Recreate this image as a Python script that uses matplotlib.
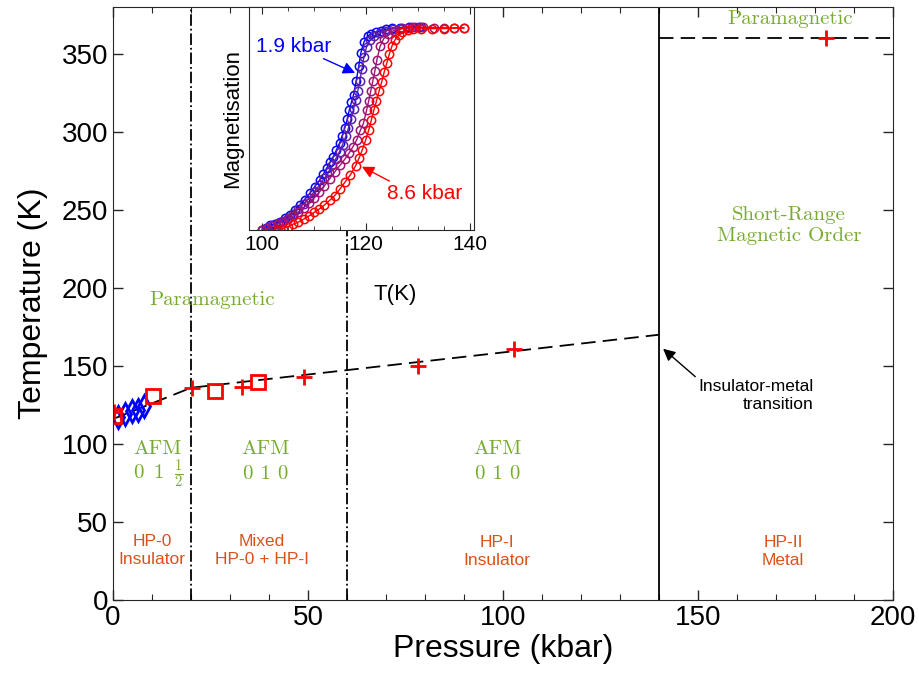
import numpy as np
import matplotlib
matplotlib.use("Agg")
import matplotlib.pyplot as plt
from matplotlib.ticker import MultipleLocator

plt.rcParams['font.family'] = ['Liberation Sans', 'DejaVu Sans']
plt.rcParams['mathtext.fontset'] = 'cm'

# phase diagram points
sq_p = [0.3, 10.2, 26.2, 37.2]
sq_t = [118, 130.5, 134, 139.5]
cr_p = [0.2, 20.2, 33, 49, 78.2, 102.8, 182.8]
cr_t = [120.5, 135.6, 136.5, 143, 149.7, 160.6, 360]
dm_p = [1.2, 3.0, 4.8, 6.5, 8.0]
dm_t = [117.5, 119.5, 121.0, 122.0, 124.5]
tn_p = [0, 20, 140]
tn_t = [116, 136, 170]
sro_p = [140, 200]
sro_t = [360, 360]
bounds_dashdot = [20, 60]
bound_solid = 140

# inset magnetisation curves (T in K, normalised M)
t1 = [100.0, 100.8, 101.6, 102.5, 103.5, 104.5, 105.4, 106.3, 107.3, 108.2, 109.2, 110.1,
      111.1, 111.8, 112.4, 113.1, 113.7, 114.3, 114.9, 115.4, 115.9, 116.4, 116.8, 117.2,
      117.6, 118.1, 118.6, 119.0, 119.6, 120.3, 121.0, 121.9, 122.8, 123.8, 125.0, 126.5,
      128.3, 130.2]
m1 = [0.000, 0.012, 0.025, 0.033, 0.042, 0.058, 0.075, 0.098, 0.124, 0.152, 0.183, 0.215,
      0.249, 0.278, 0.307, 0.336, 0.365, 0.398, 0.432, 0.468, 0.507, 0.552, 0.598, 0.636,
      0.673, 0.740, 0.814, 0.880, 0.934, 0.963, 0.975, 0.983, 0.990, 0.997, 1.002, 1.005,
      1.008, 1.010]
t2 = [100.0, 101.0, 102.0, 103.0, 104.0, 105.0, 106.0, 107.0, 108.0, 109.0, 110.0, 111.0,
      112.0, 112.8, 113.5, 114.2, 114.9, 115.5, 116.1, 116.6, 117.1, 117.6, 118.0, 118.4,
      118.8, 119.2, 119.6, 120.1, 120.8, 121.6, 122.6, 123.8, 125.2, 127.0, 128.8, 130.5]
m2 = [0.000, 0.012, 0.024, 0.035, 0.046, 0.062, 0.082, 0.105, 0.132, 0.160, 0.190, 0.222,
      0.258, 0.290, 0.322, 0.355, 0.390, 0.425, 0.465, 0.505, 0.550, 0.600, 0.645, 0.690,
      0.740, 0.800, 0.860, 0.910, 0.945, 0.965, 0.980, 0.990, 0.998, 1.004, 1.008, 1.010]
t3 = [100.0, 101.0, 102.0, 103.0, 104.0, 105.0, 106.0, 107.0, 108.0, 109.0, 110.0, 111.0,
      112.0, 113.0, 114.0, 115.0, 116.0, 116.8, 117.5, 118.2, 118.9, 119.5, 120.1, 120.5,
      120.9, 121.3, 121.7, 122.1, 122.7, 123.4, 124.3, 125.3, 126.5, 128.0, 129.5, 131.0,
      133.0, 135.0, 137.0, 138.8]
m3 = [0.000, 0.010, 0.020, 0.030, 0.040, 0.055, 0.070, 0.090, 0.112, 0.135, 0.160, 0.188,
      0.220, 0.255, 0.290, 0.322, 0.355, 0.385, 0.415, 0.448, 0.495, 0.530, 0.595, 0.640,
      0.690, 0.740, 0.790, 0.846, 0.912, 0.950, 0.975, 0.990, 0.998, 1.003, 1.006, 1.006,
      1.005, 1.004, 1.004, 1.004]
t4 = [103.0, 104.0, 105.0, 106.0, 107.0, 108.0, 109.0, 110.0, 111.0, 112.0, 113.0, 114.0,
      115.0, 116.0, 117.0, 118.0, 118.7, 119.3, 119.9, 120.5, 121.0, 121.5, 122.0, 122.5,
      123.0, 123.5, 124.0, 124.5, 125.0, 125.6, 126.3, 127.0, 128.0, 129.0, 130.5, 132.7,
      135.0, 137.0, 138.8]
m4 = [0.000, 0.008, 0.018, 0.030, 0.040, 0.055, 0.070, 0.088, 0.105, 0.125, 0.148, 0.172,
      0.205, 0.240, 0.275, 0.320, 0.360, 0.400, 0.445, 0.495, 0.545, 0.595, 0.640, 0.690,
      0.735, 0.785, 0.830, 0.875, 0.915, 0.945, 0.968, 0.982, 0.992, 0.997, 1.000, 1.000,
      1.000, 1.002, 1.003]

green = '#77AC30'
orange = '#D95319'
axc = '#262626'

fig = plt.figure(figsize=(9.19, 6.77), dpi=100)
ax = fig.add_axes([0.123, 0.1137, 0.849, 0.876])

for x in bounds_dashdot:
    ax.axvline(x, color='k', ls='-.', lw=1.3)
ax.axvline(bound_solid, color='k', ls='-', lw=1.3)
ax.plot(tn_p, tn_t, 'k--', lw=1.3, dashes=(8, 4))
ax.plot(sro_p, sro_t, 'k--', lw=1.3, dashes=(8, 4))

ax.plot(dm_p, dm_t, 'd', mfc='none', mec='blue', mew=2, ms=11, ls='none')
ax.plot(sq_p, sq_t, 's', mfc='none', mec='red', mew=2, ms=10, ls='none')
ax.plot(cr_p, cr_t, '+', color='red', mew=2, ms=12, ls='none')

ax.set_xlim(0, 200)
ax.set_ylim(0, 380)
ax.xaxis.set_major_locator(MultipleLocator(50))
ax.xaxis.set_minor_locator(MultipleLocator(10))
ax.yaxis.set_major_locator(MultipleLocator(50))
ax.tick_params(which='both', direction='in', top=True, right=True, colors=axc,
               labelcolor='k', labelsize=20)
ax.tick_params(which='major', length=7, width=1)
ax.tick_params(which='minor', length=4, width=0.8)
for s in ax.spines.values():
    s.set_color(axc)
ax.set_xlabel('Pressure (kbar)', fontsize=23, labelpad=2)
ax.set_ylabel('Temperature (K)', fontsize=23, labelpad=10)

serif = dict(color=green, fontsize=15, ha='center', va='center', family='cmr10')
ax.text(25.4, 192, 'Paramagnetic', **serif)
ax.text(173.6, 372, 'Paramagnetic', **serif)
ax.text(173.3, 240, 'Short-Range\nMagnetic Order', linespacing=1.15, **serif)
ax.text(11.5, 97, 'AFM', **serif)
ax.text(11.5, 81, r'$0\;\;1\;\;\frac{1}{2}$', color=green, fontsize=15, ha='center', va='center')
ax.text(39.2, 97, 'AFM', **serif)
ax.text(39.2, 80.5, '0 1 0', **serif)
ax.text(98.5, 97, 'AFM', **serif)
ax.text(98.5, 80.5, '0 1 0', **serif)

sans = dict(color=orange, fontsize=12.5, ha='center', va='center', linespacing=1.25)
ax.text(10, 32, 'HP-0\nInsulator', **sans)
ax.text(38.2, 32, 'Mixed\nHP-0 + HP-I', **sans)
ax.text(98.5, 31, 'HP-I\nInsulator', **sans)
ax.text(171.8, 31, 'HP-II\nMetal', **sans)

ax.annotate('Insulator-metal\ntransition', xy=(141, 161), xytext=(179.5, 131),
            ha='right', va='center', fontsize=12.5, linespacing=1.25,
            arrowprops=dict(arrowstyle='-|>', color='k', lw=1, mutation_scale=18,
                            shrinkA=0, shrinkB=0, relpos=(0.0, 1.0)))

# inset
ins = fig.add_axes([0.271, 0.660, 0.245, 0.329])
cols = ['blue', (0.36, 0.12, 0.68), (0.62, 0.08, 0.45), 'red']
for tt, mm, c in zip([t1, t2, t3, t4], [m1, m2, m3, m4], cols):
    ins.plot(tt, mm, '-o', color=c, mfc='none', mec=c, ms=6, mew=1.1, lw=1)
ins.set_xlim(97.5, 140.8)
ins.set_ylim(0, 1.105)
ins.set_xticks([100, 120, 140])
ins.xaxis.set_minor_locator(MultipleLocator(5))
ins.set_yticks([])
ins.tick_params(which='both', direction='in', top=True, colors=axc, labelcolor='k',
                labelsize=15)
ins.tick_params(which='major', length=5)
ins.tick_params(which='minor', length=3)
for s in ins.spines.values():
    s.set_color(axc)
ins.set_xlabel('T(K)', fontsize=16, labelpad=6)
ins.xaxis.set_label_coords(0.65, -0.24)
ins.set_ylabel('Magnetisation', fontsize=16, labelpad=4)
ins.annotate('1.9 kbar', xy=(117.9, 0.78), xytext=(106, 0.912), color='blue',
             fontsize=15, ha='center', va='center',
             arrowprops=dict(arrowstyle='-|>', color='blue', lw=1, mutation_scale=18,
                             shrinkA=0, shrinkB=0, relpos=(0.82, 0.0)))
ins.annotate('8.6 kbar', xy=(119.2, 0.315), xytext=(131.3, 0.183), color='red',
             fontsize=15, ha='center', va='center',
             arrowprops=dict(arrowstyle='-|>', color='red', lw=1, mutation_scale=18,
                             shrinkA=0, shrinkB=0, relpos=(0.1, 1.0)))

fig.savefig('out.png', dpi=100)
